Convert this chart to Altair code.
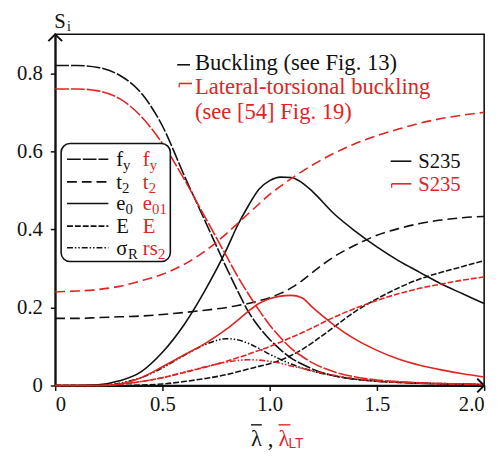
import altair as alt
import pandas as pd

# ---------------- data ----------------
x_vals = [0.0, 0.1, 0.2, 0.3, 0.4, 0.5, 0.6, 0.7, 0.8, 0.85, 0.9, 0.95, 1.0,
          1.05, 1.1, 1.15, 1.2, 1.3, 1.4, 1.5, 1.6, 1.7, 1.8, 1.9, 2.0]

# Buckling (black)
b_fy = [0.82, 0.82, 0.815, 0.795, 0.75, 0.665, 0.54, 0.42, 0.30, 0.243, 0.19, 0.15, 0.118,
        0.092, 0.07, 0.055, 0.042, 0.025, 0.016, 0.011, 0.008, 0.006, 0.004, 0.003, 0.002]
b_t2 = [0.172, 0.172, 0.174, 0.176, 0.178, 0.182, 0.187, 0.193, 0.20, 0.205, 0.21, 0.217, 0.225,
        0.236, 0.25, 0.268, 0.29, 0.33, 0.36, 0.385, 0.402, 0.415, 0.424, 0.43, 0.433]
b_e0 = [0.0, 0.0, 0.002, 0.012, 0.035, 0.085, 0.155, 0.245, 0.35, 0.41, 0.46, 0.503, 0.525,
        0.534, 0.533, 0.52, 0.497, 0.44, 0.395, 0.355, 0.32, 0.29, 0.26, 0.235, 0.21]
b_E = [0.0, 0.0, 0.0, 0.0, 0.001, 0.004, 0.01, 0.018, 0.028, 0.035, 0.042, 0.049, 0.056,
       0.065, 0.077, 0.092, 0.11, 0.15, 0.19, 0.222, 0.25, 0.273, 0.29, 0.305, 0.32]
b_sR = [0.0, 0.0, 0.001, 0.006, 0.02, 0.045, 0.077, 0.105, 0.12, 0.117, 0.108, 0.095, 0.08,
        0.067, 0.055, 0.045, 0.037, 0.025, 0.016, 0.011, 0.008, 0.006, 0.005, 0.004, 0.003]

# Lateral-torsional buckling (red)
r_fy = [0.76, 0.76, 0.755, 0.735, 0.69, 0.62, 0.53, 0.43, 0.33, 0.28, 0.235, 0.193, 0.155,
        0.123, 0.095, 0.075, 0.058, 0.035, 0.022, 0.014, 0.01, 0.007, 0.005, 0.004, 0.003]
r_t2 = [0.24, 0.242, 0.246, 0.254, 0.268, 0.285, 0.31, 0.345, 0.39, 0.415, 0.44, 0.465, 0.49,
        0.51, 0.53, 0.548, 0.565, 0.595, 0.62, 0.64, 0.657, 0.672, 0.684, 0.693, 0.70]
r_e01 = [0.0, 0.0, 0.0, 0.004, 0.02, 0.048, 0.078, 0.108, 0.145, 0.167, 0.19, 0.21, 0.222,
         0.229, 0.231, 0.225, 0.2, 0.155, 0.118, 0.09, 0.068, 0.052, 0.04, 0.03, 0.022]
r_E = [0.0, 0.0, 0.0, 0.003, 0.01, 0.02, 0.033, 0.047, 0.062, 0.071, 0.08, 0.09, 0.10,
       0.111, 0.123, 0.135, 0.148, 0.175, 0.198, 0.218, 0.235, 0.249, 0.26, 0.27, 0.278]
r_rs2 = [0.0, 0.0, 0.0, 0.003, 0.01, 0.02, 0.034, 0.048, 0.06, 0.064, 0.066, 0.065, 0.062,
         0.057, 0.05, 0.044, 0.037, 0.026, 0.017, 0.011, 0.008, 0.006, 0.004, 0.003, 0.002]

x_ticks = [0, 0.5, 1.0, 1.5, 2.0]
y_ticks = [0, 0.2, 0.4, 0.6, 0.8]

# ---------------- styling ----------------
BLACK = "#111111"
RED = "#e2231f"
SERIF = "Liberation Serif"
SANS = "Liberation Sans"
DASH = {"fy": [14, 2], "t2": [10, 5], "e0": [1, 0], "E": [6, 2], "sR": [6, 2, 1.5, 2, 1.5, 2]}

series = [
    ("b_fy", b_fy, BLACK, "fy"), ("b_t2", b_t2, BLACK, "t2"), ("b_e0", b_e0, BLACK, "e0"),
    ("b_E", b_E, BLACK, "E"), ("b_sR", b_sR, BLACK, "sR"),
    ("r_fy", r_fy, RED, "fy"), ("r_t2", r_t2, RED, "t2"), ("r_e01", r_e01, RED, "e0"),
    ("r_E", r_E, RED, "E"), ("r_rs2", r_rs2, RED, "sR"),
]

rows = []
for key, vals, _, _ in series:
    for xv, yv in zip(x_vals, vals):
        rows.append({"x": xv, "y": yv, "s": key})
df = pd.DataFrame(rows)

xscale = alt.Scale(domain=[0, 2.0], nice=False, zero=False)
yscale = alt.Scale(domain=[0, 0.9], nice=False)

x_axis = alt.Axis(values=x_ticks, title=None, grid=False,
                  labelExpr="datum.value == 0 ? '0' : format(datum.value, '.1f')",
                  labelPadding=3)
y_axis = alt.Axis(values=y_ticks, title=None, grid=False,
                  labelExpr="datum.value == 0 ? '0' : format(datum.value, '.1f')",
                  labelPadding=8)

X = alt.X("x:Q", scale=xscale, axis=x_axis)
Y = alt.Y("y:Q", scale=yscale, axis=y_axis)

layers = []
for key, vals, col, kind in series:
    mk = dict(color=col, strokeWidth=1.6, interpolate="monotone")
    if kind != "e0":
        mk["strokeDash"] = DASH[kind]
    layers.append(
        alt.Chart(df).transform_filter(alt.datum.s == key).mark_line(**mk).encode(x=X, y=Y)
    )

one = pd.DataFrame({"a": [0]})


def txt(s, x, y, color=BLACK, size=21, font=SERIF, align="left", baseline="alphabetic"):
    return alt.Chart(pd.DataFrame({"t": [s]})).mark_text(
        align=align, baseline=baseline, font=font, fontSize=size, color=color
    ).encode(x=alt.value(x), y=alt.value(y), text="t:N")


def seg(x1, x2, y1, y2, color=BLACK, dash=None, width=1.6):
    kw = dict(color=color, strokeWidth=width)
    if dash is not None:
        kw["strokeDash"] = dash
    return alt.Chart(one).mark_rule(**kw).encode(
        x=alt.value(x1), x2=alt.value(x2), y=alt.value(y1), y2=alt.value(y2))


# arrows at axis ends
arrow_y = alt.Chart(pd.DataFrame({"x": [0.0], "y": [0.9]})).mark_point(
    shape="M -1 1 L 0 0 L 1 1", filled=False, color=BLACK, strokeWidth=2, size=196, opacity=1
).encode(x=X, y=Y)
arrow_x = alt.Chart(pd.DataFrame({"x": [2.0], "y": [0.0]})).mark_point(
    shape="M -1 -1 L 0 0 L -1 1", filled=False, color=BLACK, strokeWidth=2, size=196, opacity=1
).encode(x=X, y=Y)

deco = [arrow_y, arrow_x]

# y title S_i
deco += [txt("S", -1, -6, size=21), txt("i", 12, -3, size=14)]

# top legend
deco += [
    seg(124, 137, 31, 31),
    txt("Buckling (see Fig. 13)", 142, 36, size=23),
    seg(126, 139, 50, 50, color=RED),
    seg(126, 126, 50, 54, color=RED, width=1.2),
    txt("Lateral-torsional buckling", 142, 61, color=RED, size=23),
    txt("(see [54] Fig. 19)", 142, 86, color=RED, size=23),
]

# S235 legend
deco += [
    seg(341, 362, 129, 129),
    txt("S235", 369, 136, size=21),
    seg(342, 362, 152, 152, color=RED),
    seg(342, 342, 152, 156, color=RED, width=1.2),
    txt("S235", 369, 159, color=RED, size=21),
]

# rounded legend box
box = alt.Chart(one).mark_rect(cornerRadius=9, fill="white", stroke=BLACK, strokeWidth=1.6).encode(
    x=alt.value(6), x2=alt.value(117), y=alt.value(111), y2=alt.value(231))
deco.append(box)

row_y = {"fy": 127, "t2": 150, "e0": 172, "E": 195, "sR": 217}
kinds = ["fy", "t2", "e0", "E", "sR"]
black_lab = {"fy": ("f", "y", 7), "t2": ("t", "2", 6), "e0": ("e", "0", 9.5), "E": ("E", "", 0), "sR": ("σ", "R", 12)}
red_lab = {"fy": ("f", "y", 7), "t2": ("t", "2", 6), "e0": ("e", "01", 9.5), "E": ("E", "", 0), "sR": ("rs", "2", 15.5)}
for k in kinds:
    yy = row_y[k]
    if k == "e0":
        deco.append(seg(12, 54, yy, yy))
    else:
        deco.append(seg(12, 54, yy, yy, dash=DASH[k]))
    base = yy + 7
    m, s, w = black_lab[k]
    deco.append(txt(m, 62, base))
    if s:
        deco.append(txt(s, 62 + w, base + 4, size=15))
    m, s, w = red_lab[k]
    deco.append(txt(m, 89, base, color=RED))
    if s:
        deco.append(txt(s, 89 + w, base + 4, color=RED, size=15))

# x axis title  λ̄ , λ̄_LT
deco += [
    txt("λ", 199, 419, size=23),
    seg(199, 210, 397, 397, width=1.4),
    txt(",", 216, 419, size=23),
    txt("λ", 227, 419, color=RED, size=23),
    seg(227, 239, 397, 397, color=RED, width=1.4),
    txt("LT", 237, 421, color=RED, size=14, font=SANS),
]

chart = alt.layer(*layers, *deco).properties(
    width=436, height=357,
    autosize=alt.AutoSizeParams(type="none"),
    padding={"left": 48, "top": 23, "right": 9, "bottom": 71},
).configure_view(stroke=BLACK, strokeWidth=1.6).configure_axis(
    domainColor=BLACK, domainWidth=2, tickColor=BLACK, tickWidth=1.5, tickSize=5,
    labelFont=SERIF, labelFontSize=21, labelColor=BLACK,
)

chart.save("out.html", embed_options={"renderer": "svg", "actions": False})
